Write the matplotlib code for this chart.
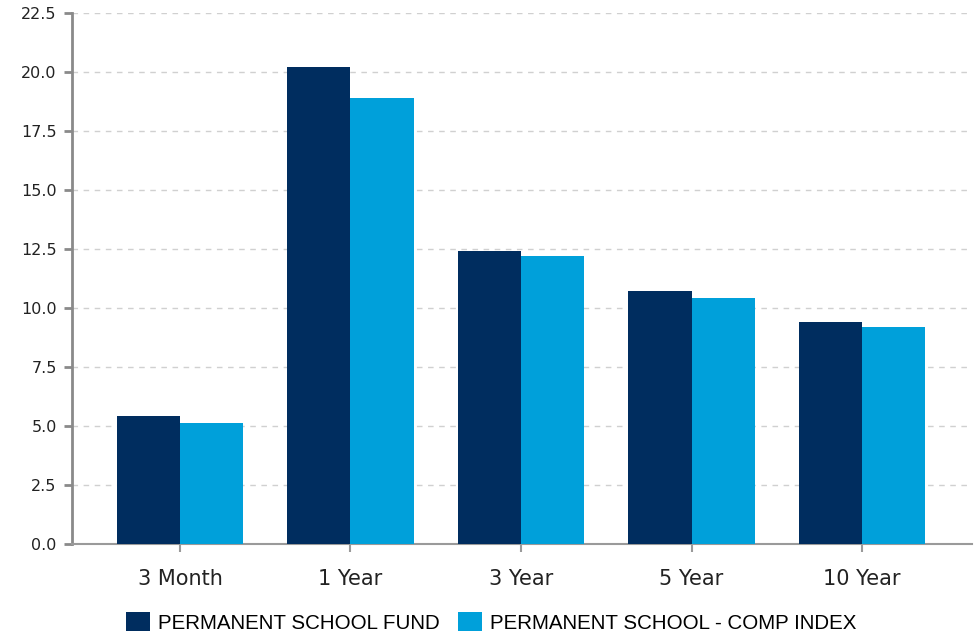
import matplotlib
matplotlib.use("Agg")
import matplotlib.pyplot as plt
import numpy as np

categories = ["3 Month", "1 Year", "3 Year", "5 Year", "10 Year"]
fund = [5.42, 20.21, 12.42, 10.72, 9.41]
index = [5.13, 18.90, 12.20, 10.42, 9.19]
series_names = ["PERMANENT SCHOOL FUND", "PERMANENT SCHOOL - COMP INDEX"]
colors = ["#002D5F", "#00A0DA"]
yticks = [0, 2.5, 5, 7.5, 10, 12.5, 15, 17.5, 20, 22.5]

plt.rcParams['font.family'] = ['Liberation Sans', 'DejaVu Sans']
fig = plt.figure(figsize=(9.77, 6.36), dpi=100)
ax = fig.add_axes([0.0737, 0.1447, 0.9212, 0.8349])

x = np.arange(len(categories))
w = 0.37
ax.bar(x - w/2, fund, w, color=colors[0], label=series_names[0], zorder=3)
ax.bar(x + w/2, index, w, color=colors[1], label=series_names[1], zorder=3)

ax.set_xlim(-0.633, 4.645)
ax.set_ylim(0, 22.5)
ax.set_yticks(yticks)
ax.set_yticklabels([f"{v:.1f}" for v in yticks], fontsize=11.5, family="DejaVu Sans")
ax.set_xticks(x)
ax.set_xticklabels(categories, fontsize=15, family="DejaVu Sans")
for lbl in ax.get_xticklabels() + ax.get_yticklabels():
    lbl.set_color("#222222")
ax.yaxis.grid(True, linestyle=(0, (4, 4)), color="#d0d0d0", linewidth=1, zorder=0)
ax.set_axisbelow(True)
for s in ["top", "right"]:
    ax.spines[s].set_visible(False)
ax.spines["left"].set_color("#8a8a8a")
ax.spines["left"].set_linewidth(2)
ax.spines["bottom"].set_color("#9a9a9a")
ax.spines["bottom"].set_linewidth(1.5)
ax.tick_params(axis="y", length=6, width=2, color="#8a8a8a", pad=5)
ax.tick_params(axis="x", length=6, width=1.5, color="#9a9a9a", pad=12)

fig.legend(loc="lower center", bbox_to_anchor=(0.503, -0.024), ncol=2, frameon=False,
           fontsize=14.8, handlelength=1.17, handleheight=1.07, columnspacing=0.88,
           handletextpad=0.39)

fig.savefig("out.png", dpi=100)
